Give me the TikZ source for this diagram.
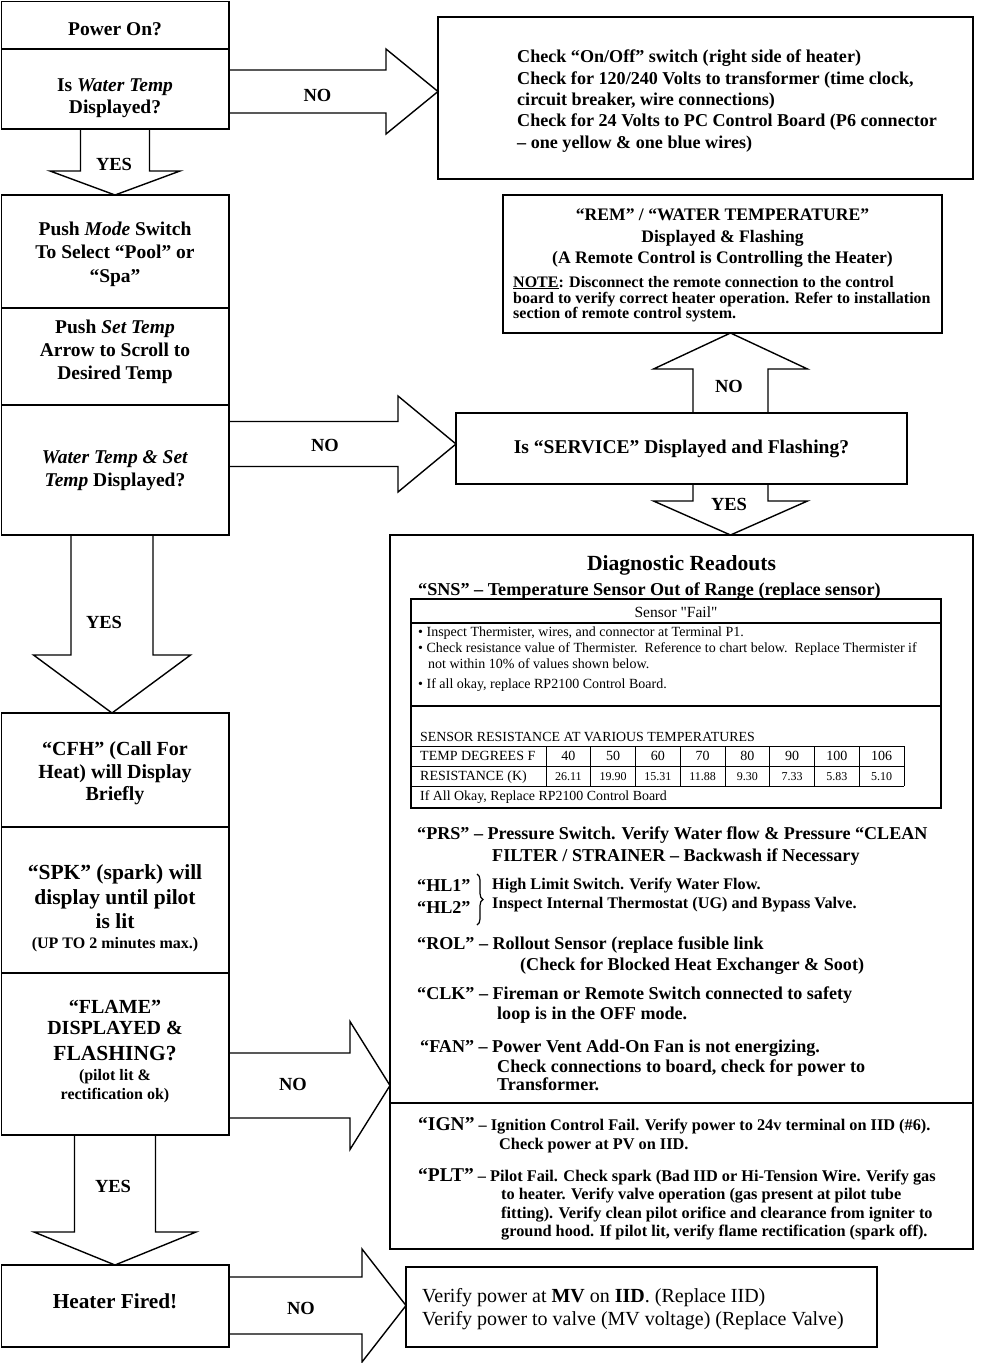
\documentclass[tikz,border=0pt]{standalone}
\usepackage{fontspec}
\setmainfont{Liberation Serif}
\newfontfamily\plainserif{Liberation Serif}[Ligatures=TeXOff]
\usetikzlibrary{calc,decorations.pathreplacing}
\newcommand\fsz[1]{\fontsize{#1}{#1}\selectfont}
\tikzset{
  box/.style={draw, line width=1.6pt, anchor=north west, inner sep=0pt, outer sep=0pt},
  blk/.style={draw, line width=1.4pt, line join=miter},
  cf/.style={inner sep=0pt, anchor=base, font=\bfseries\fsz{#1}},
  lf/.style={inner sep=0pt, anchor=base west, font=\bfseries\fsz{#1}},
  rf/.style={inner sep=0pt, anchor=base west, font=\fsz{#1}},
  rc/.style={inner sep=0pt, anchor=base, font=\fsz{#1}},
  lab/.style={inner sep=0pt, anchor=base, font=\bfseries\fsz{18.5}},
  thinl/.style={line width=1.1pt},
  tabl/.style={line width=0.9pt}
}
% box: [style]{x1}{y1}{x2}{y2}{name}
\newcommand\boxat[6][]{\node[box,#1,minimum width={#4-#2},minimum height={#5-#3}] (#6) at (#2,#3) {};}
% horizontal block arrow: from, to, cy, shaft half, head half, head length
\newcommand\harrow[6]{\draw[blk] let \p1=(#1.east), \p2=(#2.west) in
  (\x1,#3-#4) -- (\x2-#6,#3-#4) -- (\x2-#6,#3-#5) -- (\x2,#3) -- (\x2-#6,#3+#5) -- (\x2-#6,#3+#4) -- (\x1,#3+#4);}
% downward block arrow: from, to, cx, shaft half, head half, head length
\newcommand\darrow[6]{\draw[blk] let \p1=(#1.south), \p2=(#2.north) in
  (#3-#4,\y1) -- (#3-#4,\y2+#6) -- (#3-#5,\y2+#6) -- (#3,\y2) -- (#3+#5,\y2+#6) -- (#3+#4,\y2+#6) -- (#3+#4,\y1);}
% upward block arrow
\newcommand\uarrow[6]{\draw[blk] let \p1=(#1.north), \p2=(#2.south) in
  (#3-#4,\y1) -- (#3-#4,\y2-#6) -- (#3-#5,\y2-#6) -- (#3,\y2) -- (#3+#5,\y2-#6) -- (#3+#4,\y2-#6) -- (#3+#4,\y1);}
\begin{document}
\begin{tikzpicture}[x=1pt,y=-1pt]
\useasboundingbox (0,0) rectangle (981,1363);
% ---------- left column boxes
\boxat{1.5}{1.5}{229}{49}{pwr}
\boxat{1.5}{49}{229}{129}{wt}
\boxat{1.5}{195}{229}{308}{mode}
\boxat{1.5}{308}{229}{405}{set}
\boxat{1.5}{405}{229}{535}{wst}
\boxat{1.5}{713}{229}{827}{cfh}
\boxat{1.5}{827}{229}{973}{spk}
\boxat{1.5}{973}{229}{1135}{flame}
\boxat{1.5}{1265}{229}{1347}{fired}
% ---------- right boxes
\boxat{438}{17}{973}{179}{chk}
\boxat{503}{195}{942}{333}{rem}
\boxat{456}{413}{907}{484}{svc}
\boxat{390}{535}{973}{1249}{diag}
\boxat{406}{1267}{877}{1347}{mv}
% ---------- block arrows
\harrow{wt}{chk}{91.5}{21.5}{42.5}{52}
\darrow{wt}{mode}{115}{34.5}{65}{24}
\harrow{wst}{svc}{444}{22.5}{48}{58}
\darrow{wst}{cfh}{112}{41}{78.5}{58}
\uarrow{svc}{rem}{730.5}{37.5}{77}{36}
\darrow{svc}{diag}{730.5}{37.5}{77}{34}
\harrow{flame}{diag}{1085.5}{32.5}{64}{40}
\darrow{flame}{fired}{115}{40.5}{81}{33}
\harrow{fired}{mv}{1305.5}{28.5}{56.5}{44}
% ---------- arrow labels
\node[lab] (l1) at (317.5,101) {NO};
\node[lab] (l2) at (114,170) {YES};
\node[lab] (l3) at (325,451) {NO};
\node[lab] (l4) at (104,628) {YES};
\node[lab] (l5) at (729,392) {NO};
\node[lab] (l6) at (729,510) {YES};
\node[lab] (l7) at (293,1090) {NO};
\node[lab] (l8) at (113,1192) {YES};
\node[lab] (l9) at (301,1314) {NO};
% ---------- left texts
\node[cf=19.5] (t1) at (115,35) {Power On?};
\node[cf=19.5] (t2a) at (115,91) {Is \textit{Water Temp}};
\node[cf=19.5] (t2b) at (115,113) {Displayed?};
\node[cf=19.5] (t3a) at (115,235) {Push \textit{Mode} Switch};
\node[cf=19.5] (t3b) at (115,258) {To Select “Pool” or};
\node[cf=19.5] (t3c) at (115,282) {“Spa”};
\node[cf=19.5] (t4a) at (115,333) {Push \textit{Set Temp}};
\node[cf=19.5] (t4b) at (115,356) {Arrow to Scroll to};
\node[cf=19.5] (t4c) at (115,379) {Desired Temp};
\node[cf=19.5] (t5a) at (115,463) {\textit{Water Temp \& Set}};
\node[cf=19.5] (t5b) at (115,486) {\textit{Temp} Displayed?};
\node[cf=20] (t6a) at (115,755.5) {“CFH” (Call For};
\node[cf=20] (t6b) at (115,778.5) {Heat) will Display};
\node[cf=20] (t6c) at (115,800.5) {Briefly};
\node[cf=21.5] (t7a) at (115,879) {“SPK” (spark) will};
\node[cf=21.5] (t7b) at (115,904) {display until pilot};
\node[cf=21.5] (t7c) at (115,928) {is lit};
\node[cf=16] (t7d) at (115,948) {(UP TO 2 minutes max.)};
\node[cf=20] (t8a) at (115,1013.5) {“FLAME”};
\node[cf=20] (t8b) at (115,1034.5) {DISPLAYED \&};
\node[cf=21.5] (t8c) at (115,1060) {FLASHING?};
\node[cf=16] (t8d) at (115,1080) {(pilot lit \&};
\node[cf=16] (t8e) at (115,1099) {rectification ok)};
\node[cf=21.3] (t9) at (115,1308) {Heater Fired!};
% ---------- top right box
\node[lf=18.1] (c1) at (517,62) {Check “On/Off” switch (right side of heater)};
\node[lf=18.1] (c2) at (517,84) {Check for 120/240 Volts to transformer (time clock,};
\node[lf=18.1] (c3) at (517,105) {circuit breaker, wire connections)};
\node[lf=18.1] (c4) at (517,126) {Check for 24 Volts to PC Control Board (P6 connector};
\node[lf=18.1] (c5) at (517,148) {– one yellow \& one blue wires)};
% ---------- REM box
\node[cf=17.6] (r1) at (722.5,220) {“REM” / “WATER TEMPERATURE”};
\node[cf=17.6] (r2) at (722.5,242) {Displayed \& Flashing};
\node[cf=17.6] (r3) at (722.5,263) {(A Remote Control is Controlling the Heater)};
\node[lf=16] (r4) at (513,287) {\underline{NOTE}: Disconnect the remote connection to the control};
\node[lf=16] (r5) at (513,303) {board to verify correct heater operation. Refer to installation};
\node[lf=16] (r6) at (513,318) {section of remote control system.};
% ---------- service
\node[cf=19.5] (s1) at (681.5,453) {Is “SERVICE” Displayed and Flashing?};
% ---------- diagnostic box
\node[cf=21.6] (d0) at (681.5,570) {Diagnostic Readouts};
\node[lf=18.15] (d1) at (418,595) {“SNS” – Temperature Sensor Out of Range (replace sensor)};
\draw[thinl] (411,599) rectangle (941,808);
\draw[thinl] (411,623) -- (941,623);
\draw[thinl] (411,706) -- (941,706);
\node[inner sep=0pt, anchor=base, font=\plainserif\fsz{15.5}] (sf) at (676,617) {Sensor "Fail"};
\node[rf=14] (b1) at (418,636) {• Inspect Thermister, wires, and connector at Terminal P1.};
\node[rf=14] (b2) at (418,652) {• Check resistance value of Thermister.\ \ Reference to chart below.\ \ Replace Thermister if};
\node[rf=14] (b3) at (428,668) {not within 10\% of values shown below.};
\node[rf=14] (b4) at (418,688) {• If all okay, replace RP2100 Control Board.};
\node[rf=13.9] (sr) at (420,741.5) {SENSOR RESISTANCE AT VARIOUS TEMPERATURES};
\draw[tabl] (411,746) -- (904,746) (411,766) -- (904,766) (411,786) -- (904,786);
\foreach \i in {0,...,8} \draw[tabl] ({546+44.75*\i},746) -- ({546+44.75*\i},786);
\node[rf=14] (th) at (420,760.5) {TEMP DEGREES F};
\node[rf=14] (rh) at (420,780.5) {RESISTANCE (K)};
\foreach \t/\r [count=\i] in {40/26.11,50/19.90,60/15.31,70/11.88,80/9.30,90/7.33,100/5.83,106/5.10}{
  \node[rc=14] (tv\i) at ({546+44.75*(\i-0.5)},760.5) {\t};
  \node[rc=12] (rv\i) at ({546+44.75*(\i-0.5)},780) {\r};
}
\node[rf=13.9] (ok) at (420,800.5) {If All Okay, Replace RP2100 Control Board};
\node[lf=18.1] (p1) at (417,839) {“PRS” – Pressure Switch. Verify Water flow \& Pressure “CLEAN};
\node[lf=18.1] (p2) at (492,861) {FILTER / STRAINER – Backwash if Necessary};
\node[lf=18.1] (h1) at (417,891) {“HL1”};
\node[lf=18.1] (h2) at (417,913) {“HL2”};
\draw[line width=1.2pt, decorate, decoration={brace, amplitude=6pt}] (477,874) -- (477,925);
\node[lf=16.2] (h3) at (492,889) {High Limit Switch. Verify Water Flow.};
\node[lf=16.2] (h4) at (492,908) {Inspect Internal Thermostat (UG) and Bypass Valve.};
\node[lf=18.1] (o1) at (417,949) {“ROL” – Rollout Sensor (replace fusible link};
\node[lf=18.1] (o2) at (520,970) {(Check for Blocked Heat Exchanger \& Soot)};
\node[lf=18.1] (k1) at (417,999) {“CLK” – Fireman or Remote Switch connected to safety};
\node[lf=18.1] (k2) at (497,1019) {loop is in the OFF mode.};
\node[lf=18.1] (f1) at (420,1052) {“FAN” – Power Vent Add-On Fan is not energizing.};
\node[lf=18.1] (f2) at (497,1072) {Check connections to board, check for power to};
\node[lf=18.1] (f3) at (497,1090) {Transformer.};
\draw[line width=1.6pt] (390,1103) -- (973,1103);
\node[lf=16.3] (g1) at (418,1130) {{\fsz{19.5}“IGN”} – Ignition Control Fail. Verify power to 24v terminal on IID (\#6).};
\node[lf=16.3] (g2) at (499,1149) {Check power at PV on IID.};
\node[lf=16.3] (q1) at (418,1181) {{\fsz{19.5}“PLT”} – Pilot Fail. Check spark (Bad IID or Hi-Tension Wire. Verify gas};
\node[lf=16.3] (q2) at (501,1199) {to heater. Verify valve operation (gas present at pilot tube};
\node[lf=16.3] (q3) at (501,1218) {fitting). Verify clean pilot orifice and clearance from igniter to};
\node[lf=16.3] (q4) at (501,1236) {ground hood. If pilot lit, verify flame rectification (spark off).};
% ---------- MV box
\node[rf=20] (m1) at (422,1302) {Verify power at \textbf{MV} on \textbf{IID}. (Replace IID)};
\node[rf=20] (m2) at (422,1325) {Verify power to valve (MV voltage) (Replace Valve)};
\end{tikzpicture}
\end{document}
